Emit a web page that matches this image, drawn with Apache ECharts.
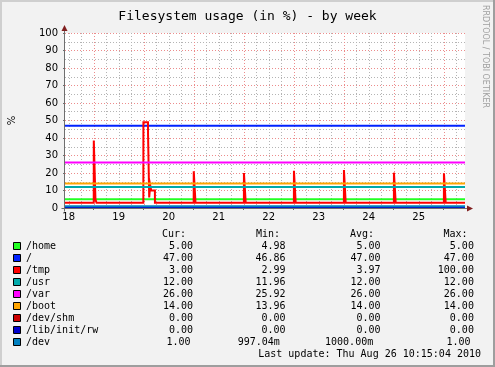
<!DOCTYPE html>
<html><head><meta charset="utf-8">
<script src="https://cdn.jsdelivr.net/npm/echarts@6/dist/echarts.min.js"></script>
<style>html,body{margin:0;padding:0;background:#F2F2F2;}#c{width:495px;height:367px;}</style>
</head><body><div id="c"></div>
<script>
// ---------- data ----------
const titleText = 'Filesystem usage (in %) - by week';
const timeStart = 18.4271;   // Aug 18 10:15 (day of month, fractional)
const timeEnd = 26.4271;     // Aug 26 10:15
const dayLabelPos = [18.5, 19.5, 20.5, 21.5, 22.5, 23.5, 24.5, 25.5];
const dayLabels = ['18', '19', '20', '21', '22', '23', '24', '25'];
const majorDayLines = [19, 20, 21, 22, 23, 24, 25, 26];
const yMax = 100;

const fsNames = ['/home', '/', '/tmp', '/usr', '/var', '/boot', '/dev/shm', '/lib/init/rw', '/dev'];
const fsColors = ['#22ff22', '#0022ff', '#ff0000', '#00aaaa', '#ff00ff', '#ffa500', '#cc0000', '#0000cc', '#0080c0'];
const fsLevels = [5, 47, 3, 12, 26, 14, 0, 0, 1];

const tmpTimes = [18.4271, 19.002, 19.003, 19.035, 19.036, 19.056, 19.057,
  19.994, 19.995, 20.087, 20.088, 20.11, 20.111, 20.13, 20.131, 20.15, 20.151, 20.225, 20.226,
  21.001, 21.002, 21.036, 21.037,
  22.005, 22.006, 22.04, 22.041,
  23.005, 23.006, 23.04, 23.041,
  24.005, 24.006, 24.04, 24.041,
  25.005, 25.006, 25.04, 25.041,
  26.005, 26.006, 26.04, 26.041, 26.4271];
const tmpValues = [3, 3, 38.5, 38.5, 5, 5, 3,
  3, 49, 49, 42, 42, 6, 6, 13, 13, 10, 10, 3,
  3, 21, 21, 3,
  3, 20, 20, 3,
  3, 21.3, 21.3, 3,
  3, 21.7, 21.7, 3,
  3, 20.2, 20.2, 3,
  3, 19.8, 19.8, 3, 3];

const curText = ['5.00', '47.00', '3.00', '12.00', '26.00', '14.00', '0.00', '0.00', '1.00'];
const minText = ['4.98', '46.86', '2.99', '11.96', '25.92', '13.96', '0.00', '0.00', '997.04m'];
const avgText = ['5.00', '47.00', '3.97', '12.00', '26.00', '14.00', '0.00', '0.00', '1000.00m'];
const maxText = ['5.00', '47.00', '100.00', '12.00', '26.00', '14.00', '0.00', '0.00', '1.00'];
const colHeaders = ['Cur:', 'Min:', 'Avg:', 'Max:'];
const lastUpdate = 'Last update: Thu Aug 26 10:15:04 2010';
const watermark = 'RRDTOOL / TOBI OETIKER';
const yUnit = '%';

// ---------- layout ----------
const G = { left: 65, top: 33, width: 400, height: 175 };
const mono = 'DejaVu Sans Mono';
const sans = 'DejaVu Sans';
const gridGray = '#b4b4b4';
const gridRed = '#ec8c8c';
const axisCol = '#6e6e6e';
const arrowCol = '#801f1f';

const xMinorLines = [];
for (let k = 0; ; k++) {
  const t = 18.5 + 0.25 * k;
  if (t >= timeEnd) break;
  if (Math.abs(t - Math.round(t)) > 1e-6) xMinorLines.push(t);
}

function gridSeries(values, color, z) {
  return {
    type: 'custom', silent: true, z: z, clip: false,
    data: values.map(v => [v, 0]),
    encode: { x: 0, y: 1 },
    renderItem: function (params, api) {
      const p0 = api.coord([api.value(0), 0]);
      const p1 = api.coord([api.value(0), yMax]);
      const x = Math.round(p0[0]) + 0.5;
      return { type: 'line', shape: { x1: x, y1: p0[1], x2: x, y2: p1[1] },
        style: { stroke: color, lineWidth: 1, lineDash: [1, 2] } };
    }
  };
}

const series = [gridSeries(xMinorLines, gridGray, 1), gridSeries(majorDayLines, gridRed, 1)];
fsNames.forEach((name, i) => {
  let data;
  if (name === '/tmp') data = tmpTimes.map((t, j) => [t, tmpValues[j]]);
  else data = [[timeStart, fsLevels[i]], [timeEnd, fsLevels[i]]];
  series.push({
    type: 'line', name: name, data: data, symbol: 'none', clip: false, z: 3 + i,
    animation: false, silent: true,
    lineStyle: { color: fsColors[i], width: 2, cap: 'butt', join: 'miter' }
  });
});

// ---------- graphics ----------
const graphics = [];
const W = 495, H = 367;
graphics.push({ type: 'rect', shape: { x: 0, y: 0, width: W, height: 2 }, style: { fill: '#cfcfcf' }, z: 1 });
graphics.push({ type: 'rect', shape: { x: 0, y: 0, width: 2, height: H }, style: { fill: '#cfcfcf' }, z: 1 });
graphics.push({ type: 'rect', shape: { x: W - 2, y: 0, width: 2, height: H }, style: { fill: '#9e9e9e' }, z: 2 });
graphics.push({ type: 'rect', shape: { x: 0, y: H - 2, width: W, height: 2 }, style: { fill: '#9e9e9e' }, z: 2 });
const ax = G.left - 0.5, ay = G.top + G.height + 0.5;
graphics.push({ type: 'line', shape: { x1: ax, y1: ay + 3, x2: ax, y2: G.top - 3 }, style: { stroke: axisCol, lineWidth: 1 }, z: 50 });
graphics.push({ type: 'line', shape: { x1: ax - 3, y1: ay, x2: G.left + G.width + 2, y2: ay }, style: { stroke: axisCol, lineWidth: 1 }, z: 50 });
graphics.push({ type: 'polygon', shape: { points: [[ax - 3, G.top - 2], [ax + 3, G.top - 2], [ax, G.top - 8]] }, style: { fill: arrowCol }, z: 51 });
graphics.push({ type: 'polygon', shape: { points: [[G.left + G.width + 2, ay - 3], [G.left + G.width + 2, ay + 3], [G.left + G.width + 8, ay]] }, style: { fill: arrowCol }, z: 51 });
graphics.push({ type: 'text', x: 485, y: 5, rotation: -Math.PI / 2,
  style: { text: watermark, font: '8px "DejaVu Sans"', fill: '#a0a0a0', textAlign: 'left', textVerticalAlign: 'middle' }, z: 5 });
const rowY0 = 246, rowStep = 12;
const colRight = [193, 285.6, 380.6, 473.9];
const colLeftHdr = [162, 256, 350, 443.5];
colHeaders.forEach((h, c) => {
  graphics.push({ type: 'text', x: colLeftHdr[c], y: rowY0 - rowStep,
    style: { text: h, font: '10px "DejaVu Sans Mono"', fill: '#000', textAlign: 'left', textVerticalAlign: 'middle' }, z: 5 });
});
const devShift = [-2.4, -5.8, -7.4, -3.3];
fsNames.forEach((name, i) => {
  const y = rowY0 + rowStep * i;
  graphics.push({ type: 'rect', shape: { x: 13.5, y: y - 3.5, width: 7, height: 7 },
    style: { fill: fsColors[i], stroke: '#000', lineWidth: 1 }, z: 5 });
  graphics.push({ type: 'text', x: 26, y: y,
    style: { text: name, font: '10px "DejaVu Sans Mono"', fill: '#000', textAlign: 'left', textVerticalAlign: 'middle' }, z: 5 });
  [curText, minText, avgText, maxText].forEach((arr, c) => {
    const shift = name === '/dev' ? devShift[c] : 0;
    graphics.push({ type: 'text', x: colRight[c] + shift, y: y,
      style: { text: arr[i], font: '10px "DejaVu Sans Mono"', fill: '#000', textAlign: 'right', textVerticalAlign: 'middle' }, z: 5 });
  });
});
graphics.push({ type: 'text', x: 481, y: rowY0 + rowStep * fsNames.length + 0.5,
  style: { text: lastUpdate, font: '10px "DejaVu Sans Mono"', fill: '#000', textAlign: 'right', textVerticalAlign: 'middle' }, z: 5 });

const chart = echarts.init(document.getElementById('c'), null, { renderer: 'canvas', devicePixelRatio: 1 });
chart.setOption({
  animation: false,
  backgroundColor: '#F2F2F2',
  title: { text: titleText, left: 'center', top: 5,
    textStyle: { fontFamily: mono, fontSize: 13, fontWeight: 'normal', color: '#000' } },
  grid: { left: G.left, top: G.top, width: G.width, height: G.height, show: true, backgroundColor: '#ffffff', borderWidth: 0,
    containLabel: false, outerBoundsMode: 'none' },
  xAxis: {
    type: 'value', min: timeStart, max: timeEnd,
    axisLine: { show: false },
    splitLine: { show: false },
    axisTick: { show: true, customValues: majorDayLines, length: 2, lineStyle: { color: axisCol } },
    axisLabel: { customValues: dayLabelPos, margin: 4, fontFamily: sans, fontSize: 10, color: '#000',
      formatter: v => dayLabels[dayLabelPos.findIndex(p => Math.abs(p - v) < 1e-6)] }
  },
  yAxis: {
    type: 'value', min: 0, max: yMax, interval: 10,
    name: yUnit, nameLocation: 'middle', nameRotate: 90, nameGap: 48,
    nameTextStyle: { fontFamily: sans, fontSize: 10, color: '#000' },
    axisLine: { show: false },
    axisTick: { show: true, length: 2, lineStyle: { color: axisCol } },
    axisLabel: { margin: 7, fontFamily: sans, fontSize: 10, color: '#000' },
    splitLine: { show: true, lineStyle: { color: gridRed, width: 1, type: [1, 2] } },
    minorTick: { show: false, splitNumber: 2 },
    minorSplitLine: { show: true, lineStyle: { color: gridGray, width: 1, type: [1, 2] } }
  },
  series: series,
  graphic: { elements: graphics }
});
</script>
</body></html>
